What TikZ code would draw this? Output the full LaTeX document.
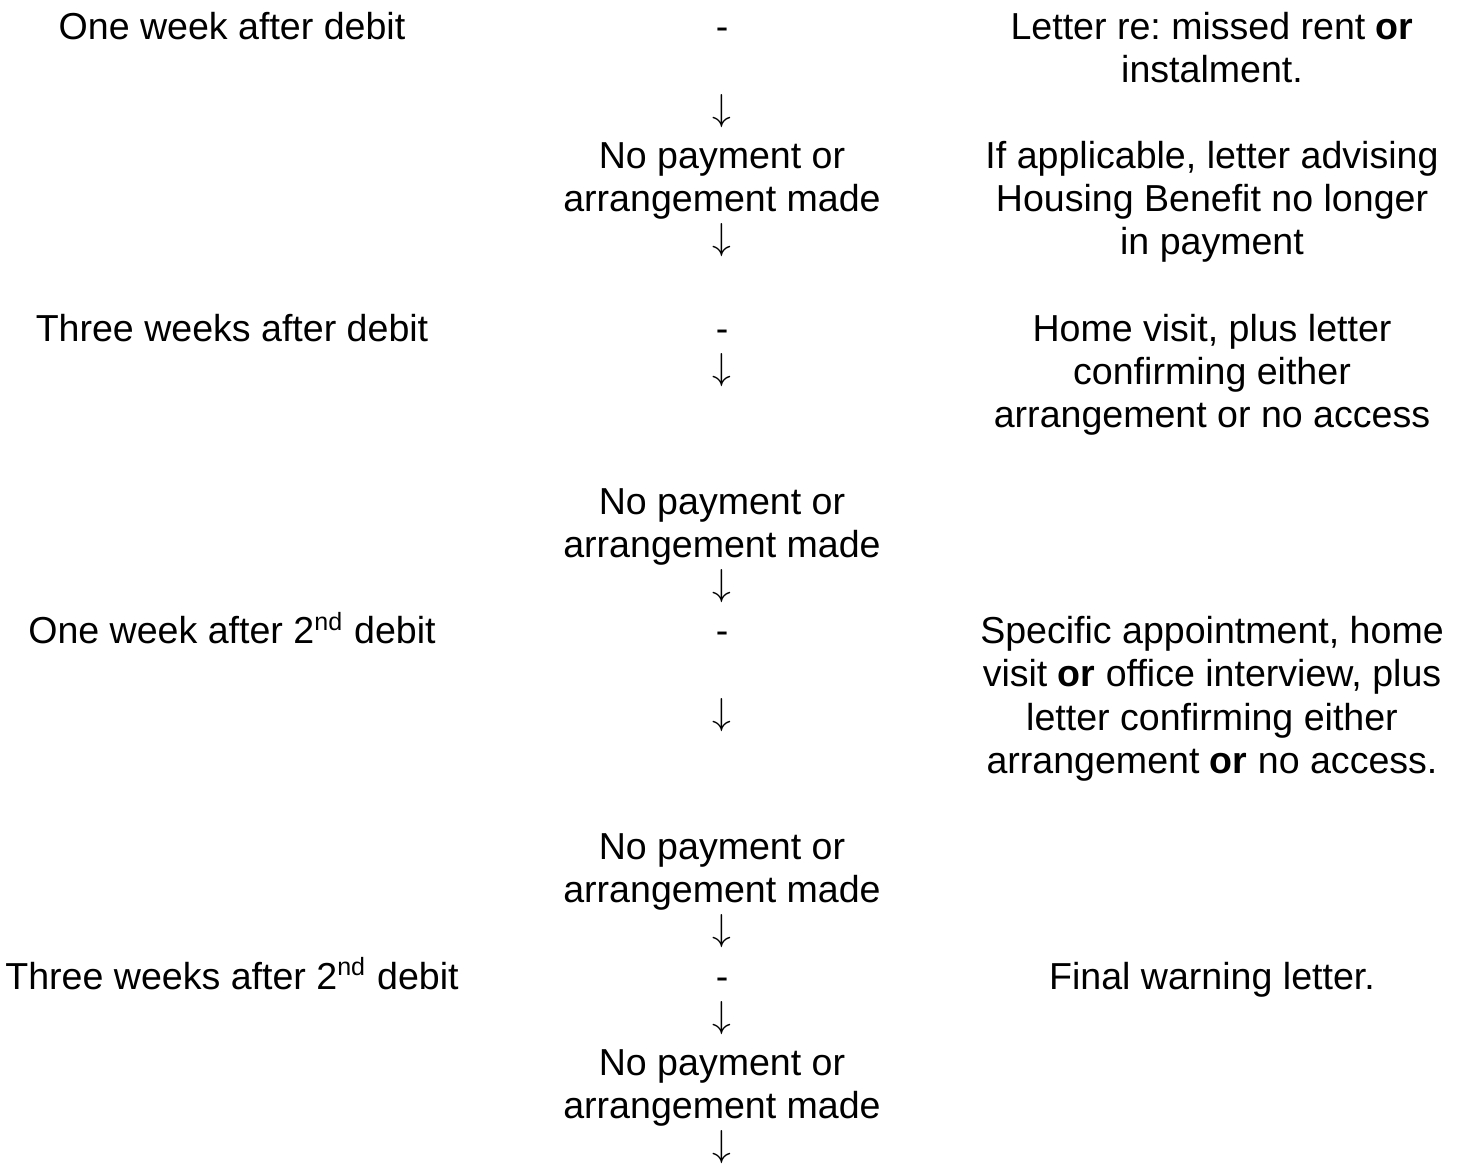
\documentclass[tikz,border=0pt]{standalone}
\usepackage{fontspec}
\setmainfont{Liberation Sans}
\frenchspacing

\begin{document}
\begin{tikzpicture}[
	x=0.3195pt, y=-13.8pt,
	every node/.style={
		font=\fontsize{12}{13.8}\selectfont,
		inner sep=0pt,
		anchor=base, % baseline of the last line
		align=center,
	},
	arr/.style={yshift=1.7pt},
]
	\useasboundingbox (0,-0.903) rectangle (1460,26.07);
	% when
	\node (when1) at (232,0) {One week after debit};
	\node (when2) at (232,7) {Three weeks after debit};
	\node (when3) at (232,14) {One week after 2\textsuperscript{nd} debit};
	\node (when4) at (232,22) {Three weeks after 2\textsuperscript{nd} debit};
	% middle column
	\foreach \i [count=\k] in {0,7,14,22}{
		\node (dash\k) at (722,\i) {-};
	}
	\foreach \i [count=\k] in {2,5,8,13,16,21,23,26}{
		\node[arr] (down\k) at (722,\i) {$\downarrow$};
	}
	\foreach \i [count=\k] in {4,12,20,25}{
		\node (nopay\k) at (722,\i) {No payment or\\arrangement made};
	}
	% action
	\node (act1) at (1212,1) {Letter re: missed rent \textbf{or}\\instalment.};
	\node (act2) at (1212,5) {If applicable, letter advising\\Housing Benefit no longer\\in payment};
	\node (act3) at (1212,9) {Home visit, plus letter\\confirming either\\arrangement or no access};
	\node (act4) at (1212,17) {Specific appointment, home\\visit \textbf{or} office interview, plus\\letter confirming either\\arrangement \textbf{or} no access.};
	\node (act5) at (1212,22) {Final warning letter.};
\end{tikzpicture}
\end{document}
